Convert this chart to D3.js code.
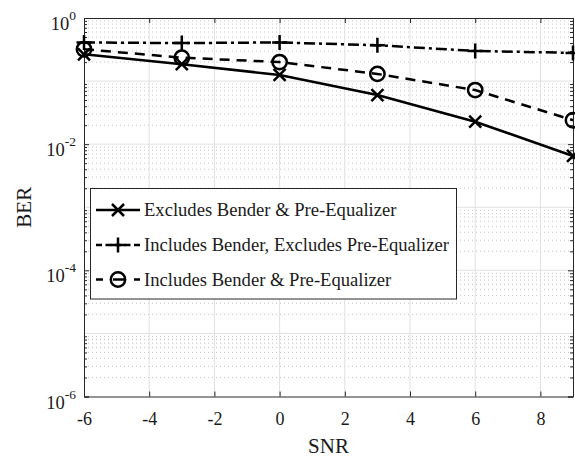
<!DOCTYPE html>
<html>
<head>
<meta charset="utf-8">
<script src="https://cdn.jsdelivr.net/npm/d3@7"></script>
<style>
  html, body { margin: 0; padding: 0; background: #fff; }
  svg { display: block; }
  text { font-family: "Liberation Serif", "Times New Roman", serif; fill: #1a1a1a; }
</style>
</head>
<body>
<svg id="chart" width="575" height="459"></svg>
<script>
// SNR values (dB)
const snr = [-6, -3, 0, 3, 6, 9];
// BER per configuration
const berExcludesBoth = [0.266, 0.185, 0.125, 0.060, 0.0227, 0.0065];
const berBenderOnly   = [0.41, 0.40, 0.41, 0.37, 0.30, 0.28];
const berBoth         = [0.32, 0.235, 0.20, 0.13, 0.072, 0.024];

const seriesNames = [
  "Excludes Bender & Pre-Equalizer",
  "Includes Bender, Excludes Pre-Equalizer",
  "Includes Bender & Pre-Equalizer"
];
const xTicks = [-6, -4, -2, 0, 2, 4, 6, 8];
const yTickExps = [0, -2, -4, -6];

const svg = d3.select("#chart");
const pLeft = 84, pRight = 573, pTop = 18, pBottom = 396.5;

const x = d3.scaleLinear().domain([-6, 9]).range([pLeft, pRight]);
const y = d3.scaleLog().domain([1e-6, 1]).range([pBottom, pTop]);

// minor grid for y (log)
const minorVals = [];
for (let e = -6; e < 0; e++) for (let m = 2; m <= 9; m++) minorVals.push(m * Math.pow(10, e));

const grid = svg.append("g");
grid.selectAll("line.ymin").data(minorVals).enter().append("line")
  .attr("x1", pLeft).attr("x2", pRight)
  .attr("y1", d => y(d)).attr("y2", d => y(d))
  .attr("stroke", "#c4c4c4").attr("stroke-width", 1)
  .attr("stroke-dasharray", "1,3");
grid.selectAll("line.ymaj").data(d3.range(-5, 0).map(e => Math.pow(10, e))).enter().append("line")
  .attr("x1", pLeft).attr("x2", pRight)
  .attr("y1", d => y(d)).attr("y2", d => y(d))
  .attr("stroke", "#e0e0e0").attr("stroke-width", 1);
grid.selectAll("line.xmaj").data(xTicks.slice(1)).enter().append("line")
  .attr("x1", d => x(d)).attr("x2", d => x(d))
  .attr("y1", pTop).attr("y2", pBottom)
  .attr("stroke", "#e0e0e0").attr("stroke-width", 1);

// axes with inward ticks
const axisColor = "#262626";
const xAxisB = d3.axisBottom(x).tickValues(xTicks).tickSize(-5).tickFormat(d => String(d));
const xAxisT = d3.axisTop(x).tickValues(xTicks).tickSize(-5).tickFormat("");
const yMajor = yTickExps.map(e => Math.pow(10, e));
const yAxisL = d3.axisLeft(y).tickValues(yMajor).tickSize(-5).tickFormat("");
const yAxisR = d3.axisRight(y).tickValues(yMajor).tickSize(-5).tickFormat("");
const yMinorL = d3.axisLeft(y).tickValues(minorVals).tickSize(-3).tickFormat("");
const yMinorR = d3.axisRight(y).tickValues(minorVals).tickSize(-3).tickFormat("");

function styleAxis(g) {
  g.attr("font-family", null).attr("font-size", null);
  g.selectAll("path").attr("stroke", axisColor).attr("stroke-width", 1);
  g.selectAll("line").attr("stroke", axisColor).attr("stroke-width", 1);
}

svg.append("g").attr("transform", `translate(0,${pBottom})`).call(xAxisB).call(styleAxis)
  .call(g => g.selectAll("text").attr("font-size", 18).attr("y", 0).attr("dy", null)
    .attr("y", 28.5).attr("fill", "#1a1a1a"));
svg.append("g").attr("transform", `translate(0,${pTop})`).call(xAxisT).call(styleAxis);
svg.append("g").attr("transform", `translate(${pLeft},0)`).call(yAxisL).call(styleAxis);
svg.append("g").attr("transform", `translate(${pRight},0)`).call(yAxisR).call(styleAxis);
svg.append("g").attr("transform", `translate(${pLeft},0)`).call(yMinorL).call(styleAxis)
  .call(g => g.select("path").remove());
svg.append("g").attr("transform", `translate(${pRight},0)`).call(yMinorR).call(styleAxis)
  .call(g => g.select("path").remove());

// y tick labels 10^e
yTickExps.forEach(e => {
  const t = svg.append("text")
    .attr("x", 76).attr("y", y(Math.pow(10, e)) + 12)
    .attr("text-anchor", "end").attr("font-size", 18.5);
  t.append("tspan").text("10");
  t.append("tspan").attr("font-size", 13.5).attr("dy", -10).text(String(e));
});

// axis titles
svg.append("text").attr("x", x(1.5)).attr("y", 453).attr("text-anchor", "middle")
  .attr("font-size", 21).text("SNR");
svg.append("text").attr("transform", `translate(31,${(pTop + pBottom) / 2}) rotate(-90)`)
  .attr("text-anchor", "middle").attr("font-size", 21).text("BER");

// data lines
const series = [
  { vals: berExcludesBoth, dash: null, marker: "x", legendDash: null },
  { vals: berBenderOnly, dash: "11,4,3,4", marker: "+", legendDash: "6,3.5" },
  { vals: berBoth, dash: "10,7", marker: "o", legendDash: "7,10,12,9,7" }
];

const plot = svg.append("g");
const lineGen = d3.line().x((d, i) => x(snr[i])).y(d => y(d));

function drawMarker(g, type, cx, cy) {
  if (type === "x") {
    const s = 6;
    g.append("path").attr("d", `M${cx - s},${cy - s}L${cx + s},${cy + s}M${cx - s},${cy + s}L${cx + s},${cy - s}`)
      .attr("stroke", "#000").attr("stroke-width", 2.5).attr("fill", "none");
  } else if (type === "+") {
    const p = 7.5;
    g.append("path").attr("d", `M${cx - p},${cy}L${cx + p},${cy}M${cx},${cy - p}L${cx},${cy + p}`)
      .attr("stroke", "#000").attr("stroke-width", 2.5).attr("fill", "none");
  } else {
    g.append("circle").attr("cx", cx).attr("cy", cy).attr("r", 7.2)
      .attr("stroke", "#000").attr("stroke-width", 2.5).attr("fill", "none");
  }
}

series.forEach(s => {
  plot.append("path").datum(s.vals).attr("d", lineGen)
    .attr("fill", "none").attr("stroke", "#000").attr("stroke-width", 2.5)
    .attr("stroke-dasharray", s.dash);
  s.vals.forEach((v, i) => drawMarker(plot, s.marker, x(snr[i]), y(v)));
});

// legend
const lg = svg.append("g");
const lgX = 90.5, lgY = 188.5, lgW = 366, lgH = 110.5;
lg.append("rect").attr("x", lgX).attr("y", lgY).attr("width", lgW).attr("height", lgH)
  .attr("fill", "#fff").attr("stroke", "#262626").attr("stroke-width", 1);
const rowY = [210, 245, 279.5];
series.forEach((s, i) => {
  const yy = rowY[i];
  lg.append("line").attr("x1", 96).attr("x2", 140).attr("y1", yy).attr("y2", yy)
    .attr("stroke", "#000").attr("stroke-width", 2.5)
    .attr("stroke-dasharray", s.legendDash);
  drawMarker(lg, s.marker, 118, yy);
  lg.append("text").attr("x", 144).attr("y", yy + 6).attr("font-size", 18.6)
    .text(seriesNames[i]);
});
</script>
</body>
</html>
